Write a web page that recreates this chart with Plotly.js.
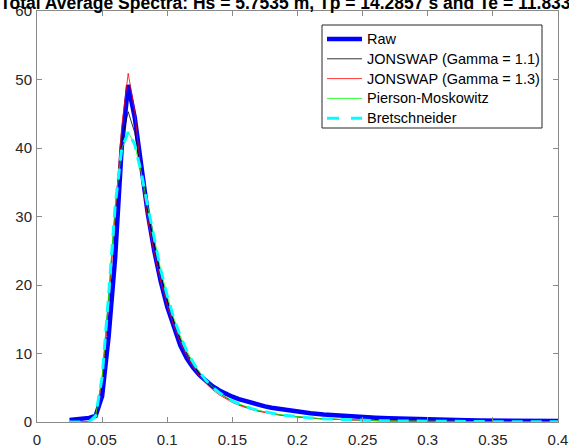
<!DOCTYPE html>
<html>
<head>
<meta charset="utf-8">
<script src="https://cdn.plot.ly/plotly-3.0.1.min.js"></script>
<style>html,body{margin:0;padding:0;background:#fff;}#chart{width:569px;height:448px;}</style>
</head>
<body>
<div id="chart"></div>
<script>
// Frequencies (Hz)
var freq = [0.025,0.03,0.035,0.04,0.045,0.05,0.055,0.06,0.065,0.07,0.075,0.08,0.085,0.09,0.095,
  0.1,0.105,0.11,0.115,0.12,0.125,0.13,0.135,0.14,0.145,0.15,0.155,0.16,0.165,0.17,0.175,0.18,0.185,0.19,0.195,0.2,
  0.21,0.22,0.23,0.24,0.25,0.26,0.27,0.28,0.29,0.3,0.31,0.32,0.33,0.34,0.35,0.36,0.37,0.38,0.39,0.4];

var raw = [0.3,0.35,0.45,0.6,0.9,3.8,12.5,24.0,40.0,49.2,44.5,37.0,30.5,25.0,20.5,
  16.8,13.8,11.2,9.3,7.9,6.8,5.9,5.2,4.6,4.1,3.7,3.35,3.05,2.75,2.5,2.28,2.08,1.92,1.76,1.62,1.5,
  1.28,1.1,0.95,0.83,0.72,0.63,0.55,0.48,0.42,0.37,0.33,0.29,0.26,0.23,0.21,0.19,0.17,0.16,0.15,0.14];

var jonswap11 = [0,0,0,0.02,0.87,6.35,18.08,31.02,41.01,45.30,42.27,36.40,30.81,25.91,21.60,
  17.90,14.78,12.22,10.12,8.40,7.00,5.86,4.92,4.15,3.52,3.00,2.56,2.20,1.90,1.64,1.43,1.24,1.09,0.95,0.84,0.74,
  0.58,0.46,0.37,0.30,0.243,0.200,0.165,0.138,0.116,0.098,0.083,0.071,0.061,0.053,0.046,0.039,0.034,0.030,0.026,0.023];

var jonswap13 = [0,0,0,0.02,0.82,6.03,17.21,30.12,43.06,50.90,45.40,36.29,29.58,24.66,20.54,
  17.01,14.06,11.61,9.62,7.99,6.66,5.57,4.68,3.95,3.35,2.85,2.44,2.09,1.80,1.56,1.36,1.18,1.03,0.91,0.80,0.70,
  0.55,0.44,0.35,0.28,0.231,0.190,0.157,0.131,0.110,0.093,0.079,0.068,0.058,0.050,0.043,0.037,0.032,0.029,0.025,0.022];

var piersonMoskowitz = [0,0,0,0.02,0.89,6.53,18.57,31.52,39.84,42.34,40.54,36.43,31.50,26.62,22.21,
  18.40,15.20,12.56,10.40,8.64,7.20,6.02,5.06,4.27,3.62,3.08,2.64,2.26,1.95,1.69,1.47,1.28,1.12,0.98,0.86,0.76,
  0.60,0.47,0.38,0.31,0.250,0.206,0.170,0.142,0.119,0.101,0.085,0.073,0.063,0.054,0.047,0.040,0.035,0.031,0.027,0.024];

var bretschneider = [0,0,0,0.02,0.89,6.53,18.57,31.52,39.84,42.34,40.54,36.43,31.50,26.62,22.21,
  18.40,15.20,12.56,10.40,8.64,7.20,6.02,5.06,4.27,3.62,3.08,2.64,2.26,1.95,1.69,1.47,1.28,1.12,0.98,0.86,0.76,
  0.60,0.47,0.38,0.31,0.250,0.206,0.170,0.142,0.119,0.101,0.085,0.073,0.063,0.054,0.047,0.040,0.035,0.031,0.027,0.024];

var seriesNames = ["Raw","JONSWAP (Gamma = 1.1)","JONSWAP (Gamma = 1.3)","Pierson-Moskowitz","Bretschneider"];
var titleText = "Total Average Spectra: Hs = 5.7535 m, Tp = 14.2857 s and Te = 11.8333 s";

var styles = [
  {color: "#0000ff", width: 4.5},
  {color: "#000000", width: 0.8},
  {color: "#ff0000", width: 0.8},
  {color: "#00ff00", width: 0.8},
  {color: "#00ffff", width: 3, dash: "11px,8px"}
];
var seriesData = [raw, jonswap11, jonswap13, piersonMoskowitz, bretschneider];

var traces = seriesData.map(function (ys, i) {
  return {x: freq, y: ys, name: seriesNames[i], mode: "lines", line: styles[i], showlegend: false};
});

// Legend drawn in paper coordinates (MATLAB-style box)
var PX_L = 37, PX_W = 521, PX_B = 422, PX_H = 411;
function px(v) { return (v - PX_L) / PX_W; }
function py(v) { return (PX_B - v) / PX_H; }

var shapes = [{type: "rect", xref: "paper", yref: "paper", x0: px(322), x1: px(542), y0: py(25), y1: py(128),
  line: {color: "#262626", width: 1}, fillcolor: "#ffffff", layer: "above"}];
var annotations = [];
seriesNames.forEach(function (nm, i) {
  var rowY = 39 + 19.8 * i;
  var st = Object.assign({}, styles[i]);
  if (i === 4) st.dash = "12px,12px";
  shapes.push({type: "line", xref: "paper", yref: "paper", x0: px(327), x1: px(362), y0: py(rowY), y1: py(rowY),
    line: st, layer: "above"});
  annotations.push({xref: "paper", yref: "paper", x: px(365), y: py(rowY), xanchor: "left", yanchor: "middle",
    text: nm, showarrow: false, font: {family: "Liberation Sans, Arial, sans-serif", size: 14.5, color: "#000000"}});
});

var axisCommon = {
  showgrid: false, zeroline: false, showline: true, linecolor: "#8a8a8a", linewidth: 1,
  mirror: "ticks", ticks: "inside", ticklen: 5, tickwidth: 1, tickcolor: "#8a8a8a",
  tickfont: {family: "Liberation Sans, Arial, sans-serif", size: 15, color: "#262626"}
};

var layout = {
  width: 569, height: 448,
  margin: {l: 37, r: 11, t: 11, b: 26, pad: 0},
  paper_bgcolor: "#ffffff", plot_bgcolor: "#ffffff",
  title: {text: "<b>" + titleText + "</b>", font: {family: "Liberation Sans, Arial, sans-serif", size: 17.5, color: "#000000"},
          x: 0.5, xref: "paper", xanchor: "center", y: 1 - 3/448, yref: "container", yanchor: "middle"},
  xaxis: Object.assign({}, axisCommon, {range: [0, 0.4], dtick: 0.05, tick0: 0, ticklabelstandoff: 4}),
  yaxis: Object.assign({}, axisCommon, {range: [0, 60], dtick: 10, tick0: 0, ticklabelstandoff: 1}),
  showlegend: false,
  shapes: shapes,
  annotations: annotations
};

Plotly.newPlot("chart", traces, layout, {displayModeBar: false, staticPlot: true});
</script>
</body>
</html>
